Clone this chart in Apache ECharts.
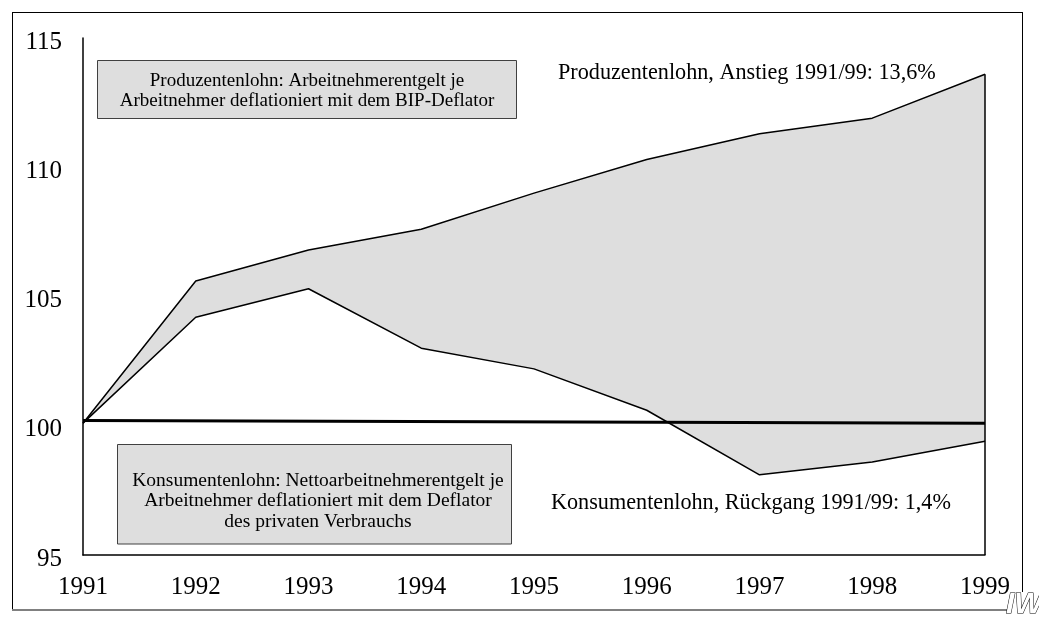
<!DOCTYPE html>
<html>
<head>
<meta charset="utf-8">
<script src="https://cdn.jsdelivr.net/npm/echarts@6/dist/echarts.min.js"></script>
<style>
html,body{margin:0;padding:0;background:#fff;}
#chart{width:1039px;height:624px;}
</style>
</head>
<body>
<div id="chart"></div>
<script>
const years = ['1991','1992','1993','1994','1995','1996','1997','1998','1999'];
const produzentenlohn = [100.1, 105.6, 106.8, 107.6, 109.0, 110.3, 111.3, 111.9, 113.6];
const konsumentenlohn = [100.1, 104.2, 105.3, 103.0, 102.2, 100.6, 98.1, 98.6, 99.4];
const baselineStartEnd = [100.2, 100.1];
const yMin = 95, yMax = 115, yStep = 5;

const boxProduzent = ['Produzentenlohn: Arbeitnehmerentgelt je', 'Arbeitnehmer deflationiert mit dem BIP-Deflator'];
const boxKonsument = ['Konsumentenlohn: Nettoarbeitnehmerentgelt je', 'Arbeitnehmer deflationiert mit dem Deflator', 'des privaten Verbrauchs'];
const noteProduzent = 'Produzentenlohn, Anstieg 1991/99: 13,6%';
const noteKonsument = 'Konsumentenlohn, Rückgang 1991/99: 1,4%';

const bandDiff = produzentenlohn.map((v, i) => +(v - konsumentenlohn[i]).toFixed(2));
const FONT = "'Liberation Serif', 'DejaVu Serif', serif";
const last = years.length - 1;

const chart = echarts.init(document.getElementById('chart'), null, {renderer: 'canvas'});
chart.setOption({
  animation: false,
  backgroundColor: '#fff',
  grid: {left: 83, right: 54, top: 38, bottom: 69, containLabel: false},
  xAxis: {
    type: 'category',
    data: years,
    boundaryGap: false,
    axisLine: {show: true, lineStyle: {color: '#000', width: 1.5}},
    axisTick: {show: false},
    axisLabel: {fontFamily: FONT, fontSize: 25, color: '#000', margin: 20, interval: 0},
    splitLine: {show: false}
  },
  yAxis: {
    type: 'value',
    min: yMin, max: yMax, interval: yStep,
    axisLine: {show: true, lineStyle: {color: '#000', width: 1.5}},
    axisTick: {show: false},
    axisLabel: {fontFamily: FONT, fontSize: 25, color: '#000', margin: 21, verticalAlign: 'top', lineHeight: 8},
    splitLine: {show: false}
  },
  series: [
    {
      name: 'base', type: 'line', stack: 'band', data: konsumentenlohn,
      symbol: 'none', lineStyle: {opacity: 0}, silent: true, z: 1
    },
    {
      name: 'band', type: 'line', stack: 'band', data: bandDiff,
      symbol: 'none', lineStyle: {opacity: 0},
      areaStyle: {color: '#dedede', opacity: 1}, silent: true, z: 1
    },
    {
      name: 'Produzentenlohn', type: 'line', data: produzentenlohn,
      symbol: 'none', lineStyle: {color: '#000', width: 1.5}, z: 3
    },
    {
      name: 'Konsumentenlohn', type: 'line', data: konsumentenlohn,
      symbol: 'none', lineStyle: {color: '#000', width: 1.5}, z: 3,
      markLine: {
        silent: true, symbol: ['none', 'none'], label: {show: false},
        data: [
          [{coord: [0, baselineStartEnd[0]], lineStyle: {color: '#000', width: 3, type: 'solid'}},
           {coord: [last, baselineStartEnd[1]]}],
          [{coord: [last, yMin], lineStyle: {color: '#000', width: 1.5, type: 'solid'}},
           {coord: [last, produzentenlohn[last]]}]
        ]
      }
    }
  ],
  graphic: [
    {type: 'line', shape: {x1: 12, y1: 12.5, x2: 1022, y2: 12.5}, style: {stroke: '#000', lineWidth: 1}},
    {type: 'line', shape: {x1: 12.5, y1: 12, x2: 12.5, y2: 610}, style: {stroke: '#000', lineWidth: 1}},
    {type: 'line', shape: {x1: 1022.5, y1: 12, x2: 1022.5, y2: 592}, style: {stroke: '#000', lineWidth: 1}},
    {type: 'line', shape: {x1: 12, y1: 610, x2: 1008, y2: 610}, style: {stroke: '#808080', lineWidth: 2}},
    {type: 'rect', shape: {x: 97.5, y: 60.5, width: 419, height: 58}, style: {fill: '#dedede', stroke: '#404040', lineWidth: 1}, z: 10},
    {type: 'text', x: 307, y: 91, z: 11, style: {text: boxProduzent.join('\n'), fontFamily: FONT, fontSize: 19, lineHeight: 20, fill: '#000', align: 'center', verticalAlign: 'middle'}},
    {type: 'rect', shape: {x: 117.5, y: 444.5, width: 394, height: 99.5}, style: {fill: '#dedede', stroke: '#404040', lineWidth: 1}, z: 10},
    {type: 'text', x: 318, y: 501, z: 11, style: {text: boxKonsument.join('\n'), fontFamily: FONT, fontSize: 19.5, lineHeight: 20.5, fill: '#000', align: 'center', verticalAlign: 'middle'}},
    {type: 'text', x: 558, y: 73, z: 11, style: {text: noteProduzent, fontFamily: FONT, fontSize: 22.2, fill: '#000', align: 'left', verticalAlign: 'middle'}},
    {type: 'text', x: 551, y: 503, z: 11, style: {text: noteKonsument, fontFamily: FONT, fontSize: 22.2, fill: '#000', align: 'left', verticalAlign: 'middle'}},
    {type: 'text', x: 1006, y: 590, z: 11, style: {text: 'IW', fontFamily: "'Liberation Sans', sans-serif", fontWeight: 'bold', fontStyle: 'italic', fontSize: 30, fill: '#fff', stroke: '#000', lineWidth: 1, align: 'left', verticalAlign: 'top'}}
  ]
});
</script>
</body>
</html>
